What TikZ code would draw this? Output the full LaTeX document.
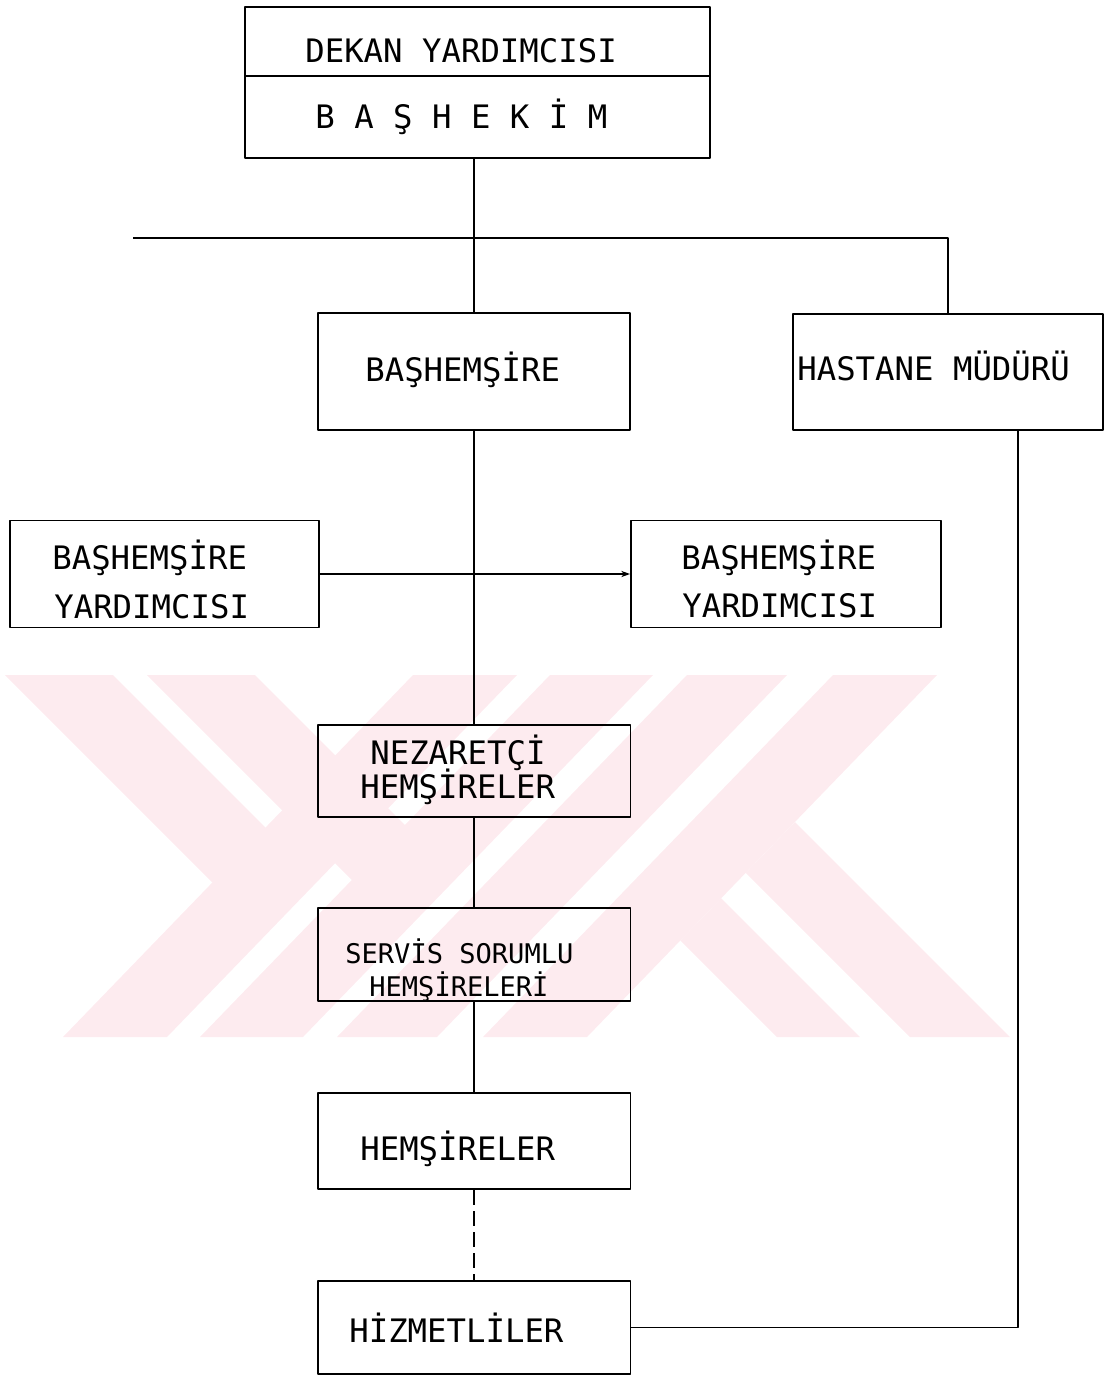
\documentclass[tikz,border=0pt]{standalone}
\usepackage{fontspec}
\newfontfamily\typew{DejaVu Sans Mono}
\usepackage{xcolor}
\usepackage{tikz}
\usetikzlibrary{arrows.meta}
\definecolor{wmpink}{RGB}{253,235,239}

\begin{document}
\begin{tikzpicture}[x=0.02cm, y=-0.02cm, >=Stealth, line join=round,
    box/.style={draw, line width=1.1pt, inner sep=0pt},
    lbl/.style={anchor=base west, inner sep=0pt, font=\typew\fontsize{18.4}{22}\selectfont},
    lblnarrow/.style={lbl, font=\typew\fontsize{15.4}{18}\selectfont},
    link/.style={line width=1.1pt}]
  \useasboundingbox (0,0) rectangle (1107,1376);
  % watermark
  \fill[wmpink] (5,675) -- (113,675) -- (318.4,880.4) -- (212.5,882.5) -- cycle;
  \fill[wmpink] (147,675) -- (255,675) -- (457.4,877.4) -- (351.9,879.9) -- cycle;
  \foreach \b/\w in {63/104, 200/103, 337/100, 483/104}
    \fill[wmpink] (\b,1037) -- ++(\w,0) -- ++(350,-362) -- ++(-\w,0) -- cycle;
  \fill[wmpink] (777,1037) -- (860,1037) -- (721.2,898.2) -- (680.4,940.4) -- cycle;
  \fill[wmpink] (910,1037) -- (1010,1037) -- (795,822) -- (745.8,872.8) -- cycle;
  % boxes
  \node[box, minimum width=9.3cm, minimum height=1.38cm] (dekan) at (477.5,41.5) {};
  \node[box, minimum width=9.3cm, minimum height=1.64cm] (bashekim) at (477.5,117) {};
  \node[box, minimum width=6.24cm, minimum height=2.34cm] (bas) at (474,371.5) {};
  \node[box, minimum width=6.2cm, minimum height=2.32cm] (hastane) at (948,372) {};
  \node[box, minimum width=6.18cm, minimum height=2.14cm] (yardl) at (164.5,574) {};
  \node[box, minimum width=6.2cm, minimum height=2.14cm] (yardr) at (786,574) {};
  \node[box, minimum width=6.26cm, minimum height=1.84cm] (nezaret) at (474,771) {};
  \node[box, minimum width=6.26cm, minimum height=1.86cm] (servis) at (474,954.5) {};
  \node[box, minimum width=6.26cm, minimum height=1.92cm] (hemsire) at (474,1141) {};
  \node[box, minimum width=6.26cm, minimum height=1.86cm] (hizmet) at (474,1327.5) {};
  % texts
  \node[lbl] (dekantxt) at (305,62) {DEKAN YARDIMCISI};
  \node[lbl] (bashekimtxt) at (315,128) {B A Ş H E K İ M};
  \node[lbl] (bastxt) at (365,381) {BAŞHEMŞİRE};
  \node[lbl] (hastanetxt) at (797,380) {HASTANE MÜDÜRÜ};
  \node[lbl] (yardltxta) at (52,569) {BAŞHEMŞİRE};
  \node[lbl] (yardltxtb) at (54,618) {YARDIMCISI};
  \node[lbl] (yardrtxta) at (681,569) {BAŞHEMŞİRE};
  \node[lbl] (yardrtxtb) at (682,617) {YARDIMCISI};
  \node[lbl] (nezarettxta) at (370,764) {NEZARETÇİ};
  \node[lbl] (nezarettxtb) at (360,798) {HEMŞİRELER};
  \node[lblnarrow] (servistxta) at (345,963) {SERVİS SORUMLU};
  \node[lblnarrow] (servistxtb) at (369,996) {HEMŞİRELERİ};
  \node[lbl] (hemsiretxt) at (360,1160) {HEMŞİRELER};
  \node[lbl] (hizmettxt) at (349,1342) {HİZMETLİLER};
  % connectors
  \coordinate (leftend) at (133,238);
  \coordinate (hmline) at (1018,0);
  \draw[link] (bas.north |- bashekim.south) -- (bas.north);
  \draw[link] (leftend) -- (leftend -| hastane.north) -- (hastane.north);
  \draw[link] (bas.south) -- (nezaret.north);
  \draw[link, -{Stealth[length=5pt,width=3.5pt]}] (yardl.east) -- (yardr.west);
  \draw[link] (nezaret.south) -- (servis.north);
  \draw[link] (servis.south) -- (hemsire.north);
  \draw[line width=1.7pt, dash pattern=on 8.5pt off 3.5pt] (hemsire.south) -- (hizmet.north);
  \draw[link] (hizmet.east) -- (hizmet.east -| hmline) -- (hmline |- hastane.south);
\end{tikzpicture}
\end{document}
